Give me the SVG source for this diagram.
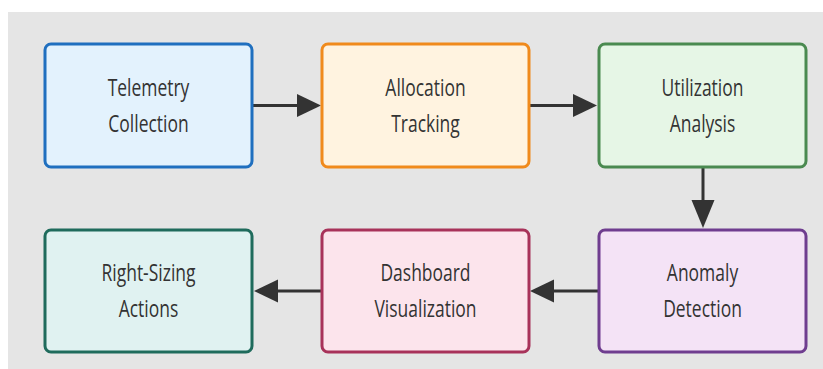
<svg xmlns="http://www.w3.org/2000/svg" width="823" height="369" viewBox="0 0 823 369">
<defs>
<style>
.bg{fill:#e5e5e5}
.node rect{stroke-width:3}
.lbl{font-family:"Open Sans","Noto Sans",sans-serif;font-size:23px;fill:#333;text-anchor:middle}
.edge{stroke:#333;stroke-width:3;fill:none}
.head{fill:#333}
</style>
</defs>
<rect x="0" y="0" width="823" height="369" fill="#ffffff"/>
<rect class="bg" x="8" y="12" width="815" height="357"/>

<g id="connectors">
<line class="edge" x1="253" y1="105.5" x2="300" y2="105.5"/>
<polygon class="head" points="297,94 321,105.5 297,117"/>
<line class="edge" x1="529" y1="105.5" x2="576" y2="105.5"/>
<polygon class="head" points="573,94 597,105.5 573,117"/>
<line class="edge" x1="703" y1="168" x2="703" y2="203"/>
<polygon class="head" points="691.5,200 714.5,200 703,228"/>
<line class="edge" x1="598" y1="291" x2="551" y2="291"/>
<polygon class="head" points="554,279.5 530,291 554,302.5"/>
<line class="edge" x1="322" y1="291" x2="275" y2="291"/>
<polygon class="head" points="278,279.5 254,291 278,302.5"/>
</g>

<g id="telemetry" class="node">
<rect x="45" y="44" width="207" height="123" rx="6" fill="#e3f2fd" stroke="#1f6fbf"/>
<g transform="translate(148.5,0) scale(0.76,1)"><text class="lbl" x="0" y="96">Telemetry</text><text class="lbl" x="0" y="132">Collection</text></g>
</g>
<g id="allocation" class="node">
<rect x="322" y="44" width="207" height="123" rx="6" fill="#fff3e0" stroke="#f08a1c"/>
<g transform="translate(425.5,0) scale(0.76,1)"><text class="lbl" x="0" y="96">Allocation</text><text class="lbl" x="0" y="132">Tracking</text></g>
</g>
<g id="utilization" class="node">
<rect x="599" y="44" width="207" height="123" rx="6" fill="#e6f6e6" stroke="#4a8a50"/>
<g transform="translate(702.5,0) scale(0.76,1)"><text class="lbl" x="0" y="96">Utilization</text><text class="lbl" x="0" y="132">Analysis</text></g>
</g>
<g id="anomaly" class="node">
<rect x="599" y="230" width="207" height="122" rx="6" fill="#f4e3f6" stroke="#6f3d8f"/>
<g transform="translate(702.5,0) scale(0.76,1)"><text class="lbl" x="0" y="281">Anomaly</text><text class="lbl" x="0" y="317">Detection</text></g>
</g>
<g id="dashboard" class="node">
<rect x="322" y="230" width="207" height="122" rx="6" fill="#fce4ec" stroke="#a8325a"/>
<g transform="translate(425.5,0) scale(0.76,1)"><text class="lbl" x="0" y="281">Dashboard</text><text class="lbl" x="0" y="317">Visualization</text></g>
</g>
<g id="rightsizing" class="node">
<rect x="45" y="230" width="207" height="122" rx="6" fill="#e0f2f1" stroke="#1f6b5c"/>
<g transform="translate(148.5,0) scale(0.76,1)"><text class="lbl" x="0" y="281">Right-Sizing</text><text class="lbl" x="0" y="317">Actions</text></g>
</g>
</svg>
